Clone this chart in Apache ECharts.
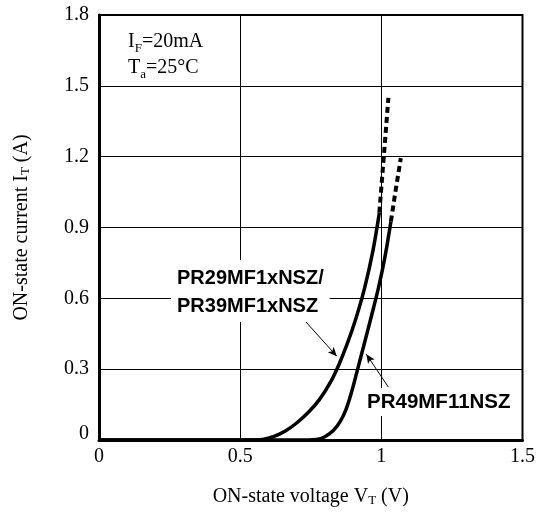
<!DOCTYPE html>
<html>
<head>
<meta charset="utf-8">
<script src="https://cdn.jsdelivr.net/npm/echarts@6/dist/echarts.min.js"></script>
<style>
html,body{margin:0;padding:0;background:#fff;}
#chart{width:538px;height:512px;}
</style>
</head>
<body>
<div id="chart"></div>
<script>
// ON-state voltage (V) and current (A) for PR29MF1xNSZ / PR39MF1xNSZ
var voltsA = [0, 0.55, 0.58, 0.62, 0.66, 0.70, 0.74, 0.78, 0.82, 0.85, 0.88, 0.91, 0.94, 0.97, 0.993];
var currA  = [0, 0, 0.002, 0.015, 0.038, 0.072, 0.115, 0.17, 0.245, 0.32, 0.41, 0.515, 0.64, 0.80, 0.963];
var voltsAext = [0.993, 1.009, 1.025];
var currAext  = [0.963, 1.205, 1.449];
// PR49MF11NSZ
var voltsB = [0, 0.74, 0.77, 0.80, 0.83, 0.855, 0.875, 0.895, 0.915, 0.94, 0.965, 0.99, 1.012, 1.034];
var currB  = [0, 0, 0.002, 0.014, 0.04, 0.08, 0.13, 0.205, 0.295, 0.41, 0.525, 0.645, 0.77, 0.926];
var voltsBext = [1.034, 1.051, 1.069];
var currBext  = [0.926, 1.06, 1.194];
// annotation arrows [fromV, fromI, toV, toI]
var arrowA = [0.718, 0.52, 0.842, 0.355];
var arrowB = [1.025, 0.224, 0.947, 0.363];

function pairs(xs, ys){ return xs.map(function(x,i){ return [x, ys[i]]; }); }

var serif = '"Liberation Serif","Times New Roman",serif';
var chart = echarts.init(document.getElementById('chart'), null, {renderer:'canvas'});
var lineBase = {type:'line', showSymbol:false, symbol:'none', smooth:0.35, silent:true, z:3};

chart.setOption({
  animation:false,
  backgroundColor:'#fff',
  grid:{left:99, right:13, top:15, bottom:71, show:true, borderColor:'#000', borderWidth:2, backgroundColor:'transparent'},
  xAxis:{
    type:'value', min:0, max:1.5, interval:0.5,
    name:'ON-state voltage V{sub|T} (V)', nameLocation:'middle', nameGap:47,
    nameTextStyle:{fontFamily:serif, fontSize:20, color:'#000', rich:{sub:{fontFamily:serif, fontSize:13, verticalAlign:'bottom', color:'#000'}}},
    axisLine:{show:true, lineStyle:{color:'#000', width:3}},
    axisTick:{show:false},
    axisLabel:{fontFamily:serif, fontSize:20, color:'#000', margin:7,
      formatter:function(v){ return String(v); }},
    splitLine:{show:true, lineStyle:{color:'#000', width:1}}
  },
  yAxis:{
    type:'value', min:0, max:1.8, interval:0.3,
    name:'ON-state current I{sub|T} (A)', nameLocation:'middle', nameGap:67,
    nameTextStyle:{fontFamily:serif, fontSize:20, color:'#000', rich:{sub:{fontFamily:serif, fontSize:13, verticalAlign:'bottom', color:'#000'}}},
    axisLine:{show:true, lineStyle:{color:'#000', width:3}},
    axisTick:{show:false},
    axisLabel:{fontFamily:serif, fontSize:20, color:'#000', margin:10,
      formatter:function(v){
        var s = (Math.round(v*10)/10).toString();
        return v === 0 ? '{z|0}' : s;
      },
      rich:{z:{fontFamily:serif, fontSize:20, color:'#000', padding:[0,0,12,0]}}},
    splitLine:{show:true, lineStyle:{color:'#000', width:1}}
  },
  series:[
    Object.assign({}, lineBase, {name:'A', data:pairs(voltsA, currA), lineStyle:{color:'#000', width:3.5}}),
    Object.assign({}, lineBase, {name:'Aext', smooth:false, data:pairs(voltsAext, currAext), lineStyle:{color:'#000', width:4, type:[6,4]}}),
    Object.assign({}, lineBase, {name:'B', data:pairs(voltsB, currB), lineStyle:{color:'#000', width:3.5}}),
    Object.assign({}, lineBase, {name:'Bext', smooth:false, data:pairs(voltsBext, currBext), lineStyle:{color:'#000', width:4, type:[6,4]}}),
    {type:'line', data:[], silent:true, z:4,
      markLine:{silent:true, symbol:['none','arrow'], symbolSize:[6,9], animation:false,
        label:{show:false}, lineStyle:{color:'#000', width:1, type:'solid'},
        data:[
          [{coord:[arrowA[0], arrowA[1]]},{coord:[arrowA[2], arrowA[3]]}],
          [{coord:[arrowB[0], arrowB[1]]},{coord:[arrowB[2], arrowB[3]]}]
        ]}}
  ],
  graphic:[
    {type:'text', left:128, top:29, z:100, silent:true,
      style:{text:'I{s|F}=20mA\nT{s|a}=25°C', font:'20px '+serif, fill:'#000', lineHeight:26,
        rich:{s:{fontFamily:serif, fontSize:13, verticalAlign:'bottom', fill:'#000'}}}},
    {type:'text', left:171, top:260, z:100, silent:true,
      style:{text:'PR29MF1xNSZ/\nPR39MF1xNSZ', font:'bold 20px "Liberation Sans",Arial,sans-serif', fill:'#000',
        lineHeight:28, backgroundColor:'#fff', padding:[4,6,2,6]}},
    {type:'text', left:362, top:388, z:100, silent:true,
      style:{text:'PR49MF11NSZ', font:'bold 20.5px "Liberation Sans",Arial,sans-serif', fill:'#000',
        lineHeight:28, backgroundColor:'#fff', padding:[0,5,0,5]}}
  ]
});
</script>
</body>
</html>
